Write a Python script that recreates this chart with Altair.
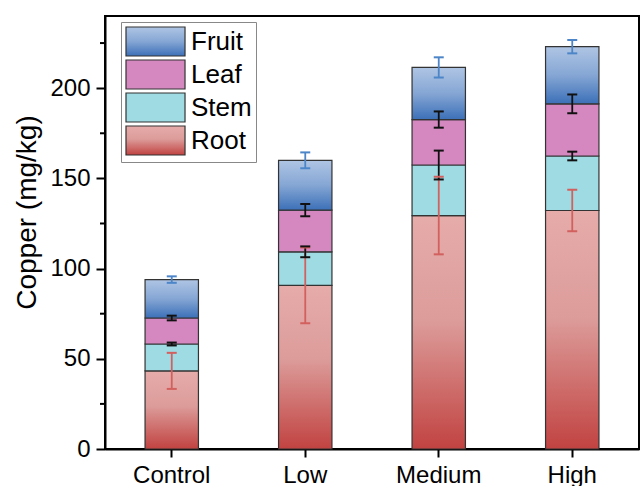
import altair as alt
import pandas as pd

groups = ["Control", "Low", "Medium", "High"]
parts = ["Root", "Stem", "Leaf", "Fruit"]
legend_order = ["Fruit", "Leaf", "Stem", "Root"]

root = [43.3, 90.7, 129.4, 132.2]
stem = [14.9, 18.6, 28.0, 30.2]
leaf = [14.4, 23.1, 25.2, 28.9]
fruit = [21.3, 27.6, 28.9, 31.7]

root_sd = [10.0, 21.0, 21.5, 11.5]
stem_sd = [0.8, 3.0, 8.0, 2.4]
leaf_sd = [1.3, 3.4, 4.5, 5.2]
fruit_sd = [1.8, 4.4, 5.6, 3.7]

y_major = [0, 50, 100, 150, 200]
y_minor = [25, 75, 125, 175, 225]

FONT = "Liberation Sans, Arial, sans-serif"
YTITLE = "Copper (mg/kg)"

values = {"Root": root, "Stem": stem, "Leaf": leaf, "Fruit": fruit}
sds = {"Root": root_sd, "Stem": stem_sd, "Leaf": leaf_sd, "Fruit": fruit_sd}

rows = []
for gi, g in enumerate(groups):
    cum = 0.0
    for pi, p in enumerate(parts):
        v = values[p][gi]
        cum += v
        s = sds[p][gi]
        rows.append({"group": g, "part": p, "idx": pi, "value": v,
                     "lo": cum - s, "hi": cum + s})
df = pd.DataFrame(rows)
minor_df = pd.DataFrame({"v": y_minor})


def grad(stops):
    s = ",".join("{offset:%s,color:'%s'}" % (o, c) for o, c in stops)
    return alt.ExprRef(expr="{gradient:'linear',x1:0,y1:0,x2:0,y2:1,stops:[%s]}" % s)


fill_range = [
    grad([(0, "#afc5e4"), (0.5, "#85a6d4"), (1, "#3c70b8")]),   # Fruit
    "#d588c0",                                                   # Leaf
    "#9fdbe3",                                                   # Stem
    grad([(0, "#e6acaa"), (0.45, "#dc9c9a"), (1, "#c14341")]),  # Root
]
err_colors = ["#d2605e", "#111111", "#111111", "#4d86c8"]

x_enc = alt.X("group:N", sort=groups,
              scale=alt.Scale(paddingInner=0.6, paddingOuter=0.3),
              axis=alt.Axis(title=None, labelAngle=0, labelFontSize=24,
                            labelFont=FONT, labelColor="black",
                            tickSize=8, tickWidth=2, tickColor="black",
                            domainWidth=2, domainColor="black", labelPadding=6))

y_scale = alt.Scale(domain=[0, 240], nice=False, zero=True)
y_axis = alt.Axis(title=YTITLE, values=y_major, labelFontSize=24, labelFont=FONT,
                  labelColor="black", tickSize=9, tickWidth=2, tickColor="black",
                  domainWidth=2, domainColor="black", labelPadding=6,
                  titleFontSize=28, titleFont=FONT, titleFontWeight="normal",
                  titleColor="black", titleX=-64, titleY=196, grid=False)

bars = alt.Chart(df).mark_bar(stroke="#333333", strokeWidth=1.2).encode(
    x=x_enc,
    y=alt.Y("value:Q", stack="zero", scale=y_scale, axis=y_axis, title=YTITLE),
    color=alt.Color("part:N",
                    scale=alt.Scale(domain=legend_order, range=fill_range),
                    legend=alt.Legend(title=None, orient="none", legendX=16, legendY=6,
                                      symbolType="M-1,-1H3.07V1H-1Z",
                                      symbolSize=841, symbolStrokeColor="#333333",
                                      symbolStrokeWidth=1.2, symbolOpacity=1,
                                      labelFontSize=26, labelFont=FONT,
                                      labelColor="black", labelOffset=35,
                                      rowPadding=-3, padding=4,
                                      strokeColor="#888888", fillColor="white")),
    order=alt.Order("idx:Q", sort="ascending"),
)

err_stroke = alt.Stroke("part:N", scale=alt.Scale(domain=parts, range=err_colors), legend=None)
err_fill = alt.Fill("part:N", scale=alt.Scale(domain=parts, range=err_colors), legend=None)

err_rule = alt.Chart(df).mark_rule(strokeWidth=1.8).encode(
    x=alt.X("group:N", sort=groups),
    y=alt.Y("lo:Q", title=YTITLE),
    y2="hi:Q",
    stroke=err_stroke,
)
cap_hi = alt.Chart(df).mark_tick(size=10, thickness=2, opacity=1).encode(
    x=alt.X("group:N", sort=groups),
    y=alt.Y("hi:Q", title=YTITLE),
    fill=err_fill,
)
cap_lo = alt.Chart(df).mark_tick(size=10, thickness=2, opacity=1).encode(
    x=alt.X("group:N", sort=groups),
    y=alt.Y("lo:Q", title=YTITLE),
    fill=err_fill,
)
minor = alt.Chart(minor_df).mark_rule(strokeWidth=2, color="black").encode(
    y=alt.Y("v:Q", title=YTITLE),
    x=alt.value(-5),
    x2=alt.value(0),
)

chart = alt.layer(bars, err_rule, cap_hi, cap_lo, minor).properties(
    width=534, height=433,
    autosize=alt.AutoSizeParams(type="none"),
    padding={"left": 105, "top": 16, "right": 1, "bottom": 37},
    background="white",
).configure_view(stroke="black", strokeWidth=2)

chart.save("out.html", embed_options={"renderer": "svg", "actions": False})
